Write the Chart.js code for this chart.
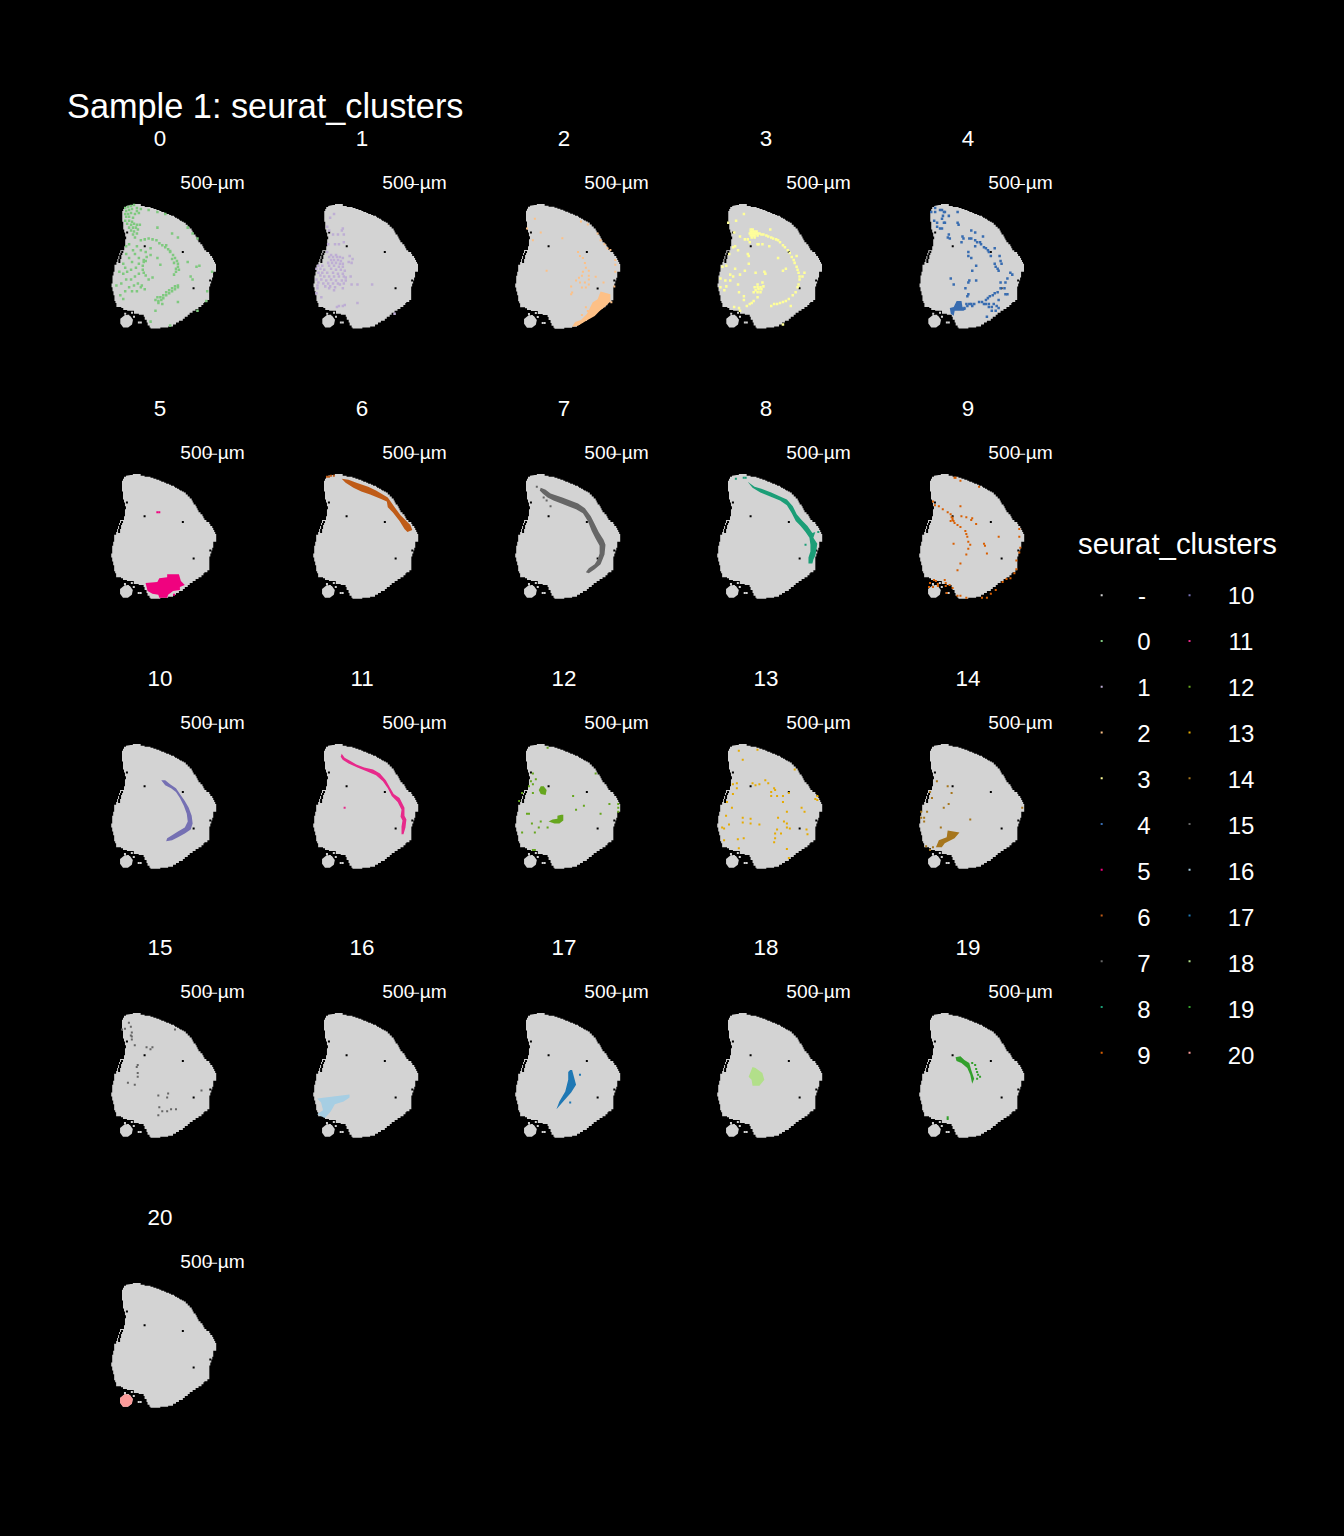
<!DOCTYPE html>
<html>
<head>
<meta charset="utf-8">
<title>Sample 1: seurat_clusters</title>
<script src="https://cdn.jsdelivr.net/npm/chart.js@4/dist/chart.umd.min.js"></script>
<style>
html, body { margin: 0; background: #000; }
#page { position: relative; width: 1344px; height: 1536px; background: #000; overflow: hidden; font-family: "Liberation Sans", Arial, sans-serif; color: #fff; }
#page canvas { position: absolute; }
.txt { position: absolute; white-space: nowrap; line-height: 1; transform: translate(-50%, -50%); }
</style>
</head>
<body>
<div id="page"></div>
<script>
// cluster names and colours, "-" is the legend entry for unassigned spots
var clusterNames = ["0","1","2","3","4","5","6","7","8","9","10","11","12","13","14","15","16","17","18","19","20"];
var clusterColors = ["#7FC97F","#BEAED4","#FDC086","#FFFF99","#386CB0","#F0027F","#BF5B17","#666666","#1B9E77","#D95F02","#7570B3","#E7298A","#66A61E","#E6AB02","#A6761D","#666666","#A6CEE3","#1F78B4","#B2DF8A","#33A02C","#FB9A99"];
var legendLeft = ["-","0","1","2","3","4","5","6","7","8","9"];
var legendRight = ["10","11","12","13","14","15","16","17","18","19","20"];
var legendLeftColors = ["#D3D3D3","#7FC97F","#BEAED4","#FDC086","#FFFF99","#386CB0","#F0027F","#BF5B17","#666666","#1B9E77","#D95F02"];
var legendRightColors = ["#7570B3","#E7298A","#66A61E","#E6AB02","#A6761D","#666666","#A6CEE3","#1F78B4","#B2DF8A","#33A02C","#FB9A99"];

// tissue section, x/y in pixels inside a panel
var tissueOutline = [[30,8],[32,7],[34,7],[40,9],[44,10],[50,11],[53,12],[56,13],[59,14],[61,15],[64,16],[66,17],[69,18],[71,19],[74,20],[75,21],[77,22],[79,23],[80,24],[82,25],[84,26],[86,28],[88,30],[90,32],[92,34],[93,36],[94,38],[96,40],[97,42],[98,44],[99,46],[101,48],[103,50],[104,52],[105,54],[107,56],[110,58],[111,60],[113,62],[114,64],[115,66],[116,68],[117,72],[117,76],[114,78],[114,82],[113,85],[112,88],[111,91],[110,95],[110,100],[110,105],[108,107],[105,108],[104,110],[102,112],[99,114],[96,116],[93,118],[90,120],[88,122],[85,124],[83,126],[79,128],[76,130],[73,132],[68,133],[60,134],[50,133],[49,131],[47,128],[46,125],[44,122],[43,120],[38,119],[33,119],[33,116],[30,116],[26,115],[22,113],[20,112],[15,108],[14,106],[13,103],[13,100],[12,96],[11,92],[10,88],[11,84],[11,80],[12,76],[13,72],[13,69],[15,66],[16,63],[17,60],[18,57],[19,54],[23,52],[23,50],[24,46],[24,43],[25,40],[24,36],[23,33],[22,29],[22,25],[21,21],[21,17],[21,14],[22,12],[23,10],[25,9]];
var tissueBlob = [[24,120],[29,121],[32,125],[31,130],[27,133],[22,133],[19,129],[19,124]];
var tissueBits = [[38,128],[40,128],[24,119],[27,121],[33,122],[31,118]];
var tissueHoles = [[44,50],[83,56],[94,93],[26,36],[111,85],[21,56],[20,58],[19,60],[19,62],[18,64],[18,66]];
var scaleBar = [[107,-13],[118,-13]];

var spots0 = [[24,11],[27,10],[30,9],[33,8],[36,11],[25,14],[28,13],[31,12],[36,14],[40,12],[24,17],[27,17],[30,16],[34,17],[38,16],[25,20],[28,20],[32,21],[24,24],[28,24],[31,25],[26,27],[30,28],[33,27],[36,28],[39,28],[28,31],[32,31],[35,31],[30,34],[33,35],[37,33],[32,38],[36,37],[34,41],[48,13],[57,15],[65,17],[88,31],[93,37],[98,42],[40,44],[44,43],[48,42],[52,43],[56,44],[59,47],[62,49],[65,51],[68,53],[70,56],[73,59],[75,62],[77,65],[78,68],[78,71],[76,73],[79,74],[76,76],[74,79],[70,55],[66,49],[72,63],[74,67],[55,105],[58,106],[61,105],[57,102],[60,102],[63,103],[63,100],[66,100],[66,97],[69,98],[69,95],[72,96],[72,93],[75,94],[75,91],[78,92],[78,90],[58,108],[62,109],[43,64],[45,65],[43,66],[50,59],[57,62],[60,69],[43,77],[40,92],[22,68],[24,72],[28,62],[31,66],[34,58],[38,62],[22,78],[26,76],[30,74],[35,72],[38,68],[42,70],[46,61],[20,88],[25,84],[30,84],[34,81],[38,78],[42,74],[45,80],[48,84],[52,82],[28,92],[33,90],[37,88],[41,90],[44,94],[31,96],[36,96],[24,96],[19,100],[22,104],[15,90],[18,76],[25,50],[28,48],[32,54],[36,50],[40,54],[45,56],[50,52],[25,58],[97,71],[100,70],[93,84],[91,81],[113,76],[108,96],[107,106],[98,116],[78,107],[70,131],[50,127],[55,116],[88,66],[57,31],[78,41],[72,37]];
var spots1 = [[31,17],[27,21],[24,30],[26,34],[40,32],[39,34],[30,38],[35,38],[41,38],[25,48],[32,48],[36,48],[41,46],[24,56],[47,60],[50,63],[46,66],[49,67],[41,81],[48,81],[49,89],[55,89],[70,89],[55,108],[42,110],[36,111],[34,112],[40,111],[93,119],[18,102],[13,98],[28,59],[33,59],[26,61],[30,61],[34,61],[37,61],[40,62],[28,64],[31,64],[35,64],[38,65],[25,67],[29,67],[33,67],[37,68],[40,68],[15,70],[19,70],[26,70],[31,70],[36,71],[40,71],[13,73],[17,73],[21,74],[28,73],[33,74],[38,74],[42,75],[15,77],[19,77],[24,77],[30,77],[35,78],[40,78],[17,80],[21,81],[26,81],[31,81],[36,81],[43,82],[13,84],[18,84],[23,85],[28,84],[33,85],[39,85],[43,85],[15,87],[20,88],[25,88],[30,88],[35,88],[41,88],[14,90],[22,91],[27,91],[32,92],[37,89],[26,93],[31,95],[40,93],[14,93]];
var spots2 = [[30,22],[22,32],[36,36],[28,44],[58,42],[42,75],[77,25],[84,28],[94,37],[97,44],[101,48],[104,52],[107,54],[112,64],[112,69],[112,76],[111,91],[108,107],[74,56],[76,60],[79,62],[81,67],[82,72],[85,75],[85,80],[85,84],[85,89],[82,92],[79,76],[78,80],[75,82],[76,87],[72,85],[78,92],[81,87],[92,81],[100,87],[67,91],[68,97],[67,99],[82,112],[84,116],[78,120]];
var patch2 = [[97,96],[107,99],[107,106],[102,111],[96,116],[91,121],[82,126],[74,131],[68,132],[71,127],[77,125],[83,119],[87,111],[89,107],[94,104]];
var spots3 = [[44,33],[46,33],[44,35],[46,35],[48,35],[50,35],[43,37],[45,37],[47,37],[49,37],[51,37],[53,37],[44,39],[46,39],[48,39],[51,39],[45,41],[48,41],[38,43],[41,43],[55,38],[57,38],[60,39],[62,40],[65,41],[67,42],[70,43],[72,44],[74,46],[77,49],[79,51],[82,54],[84,57],[86,61],[88,64],[89,67],[91,71],[92,74],[93,77],[94,81],[94,84],[93,89],[92,92],[90,97],[87,100],[83,104],[80,106],[77,107],[74,108],[71,109],[68,109],[37,17],[29,24],[21,26],[27,36],[33,40],[64,33],[43,46],[51,48],[52,48],[56,48],[63,50],[26,51],[28,50],[31,54],[22,58],[41,58],[42,60],[72,62],[42,68],[15,71],[19,70],[28,73],[38,75],[49,77],[58,76],[59,78],[77,75],[80,73],[91,60],[97,81],[99,77],[23,79],[26,81],[33,79],[13,83],[18,85],[23,85],[31,89],[13,92],[19,91],[17,95],[32,97],[56,87],[51,89],[48,92],[51,92],[54,92],[57,91],[49,95],[52,94],[55,94],[51,97],[54,97],[47,97],[37,101],[37,105],[51,102],[47,106],[45,108],[43,109],[40,111],[27,112],[32,113],[33,116],[65,111],[85,111],[77,130]];
var spots4 = [[26,11],[22,15],[26,15],[31,13],[33,13],[35,15],[36,15],[49,15],[40,19],[34,19],[33,22],[25,24],[28,26],[35,26],[36,26],[49,26],[50,28],[28,30],[31,32],[33,32],[63,34],[67,36],[40,38],[39,41],[41,42],[54,40],[55,42],[61,42],[63,42],[75,40],[67,44],[69,46],[72,46],[73,48],[67,50],[53,46],[76,51],[78,52],[80,54],[81,56],[87,52],[83,60],[60,56],[60,60],[63,62],[92,60],[93,65],[94,68],[87,68],[88,71],[90,73],[91,75],[68,70],[64,75],[103,77],[105,79],[100,83],[98,87],[93,87],[42,83],[45,89],[61,85],[60,87],[68,85],[57,93],[93,93],[97,93],[98,99],[100,99],[60,99],[59,101],[90,97],[87,98],[85,100],[82,101],[80,103],[78,105],[91,105],[71,107],[74,107],[76,109],[78,109],[81,109],[86,109],[81,112],[84,112],[89,111],[91,113],[84,116],[88,116],[79,122],[58,109],[61,109],[63,109],[66,109],[59,111],[64,111],[56,113]];
var patch4 = [[48,106],[53,106],[54,112],[58,114],[55,116],[46,116],[45,121],[42,119],[41,113],[45,112]];
var spots5 = [[57,46],[59,46],[74,130]];
var patch5 = [[67,109],[79,109],[81,116],[85,120],[80,122],[80,125],[73,126],[68,130],[67,133],[59,133],[58,130],[52,129],[47,126],[45,118],[57,117],[59,113],[67,112]];
var spots6 = [[24,10],[26,10],[28,9],[31,9]];
var patch6 = [[39,12],[46,13],[54,16],[66,20],[74,24],[86,31],[93,41],[99,49],[109,59],[111,64],[106,66],[103,63],[98,55],[91,46],[86,41],[85,35],[78,32],[68,28],[59,25],[51,21],[43,16]];
var spots7 = [[32,20],[39,31],[42,34],[46,40]];
var patch7 = [[36,21],[41,23],[46,27],[58,31],[66,34],[74,37],[81,42],[87,50],[91,58],[95,66],[100,74],[102,79],[101,89],[97,99],[91,104],[85,108],[82,107],[85,103],[91,99],[94,94],[96,88],[96,80],[92,73],[88,65],[84,55],[79,47],[72,43],[64,40],[57,37],[49,34],[43,31],[38,27],[35,24]];
var spots8 = [[29,12],[37,11],[39,11],[100,79],[113,66]];
var patch8 = [[41,15],[48,20],[55,22],[65,26],[74,30],[81,33],[87,40],[91,48],[96,54],[102,60],[107,67],[110,66],[108,72],[112,78],[111,85],[110,90],[108,94],[107,98],[103,98],[103,92],[105,86],[105,79],[104,72],[100,66],[95,60],[90,55],[86,47],[81,39],[74,34],[64,30],[54,26],[46,21]];
var spots9 = [[46,11],[47,11],[52,14],[71,20],[24,35],[26,39],[30,40],[34,43],[39,46],[42,48],[43,51],[44,54],[46,57],[49,59],[52,61],[57,65],[58,68],[59,71],[60,76],[62,79],[60,83],[58,89],[52,98],[49,105],[52,40],[53,50],[58,51],[64,52],[63,54],[68,58],[45,78],[91,71],[76,78],[77,80],[79,88],[112,63],[112,71],[113,82],[112,87],[109,95],[109,104],[107,108],[103,113],[99,114],[95,117],[88,125],[83,129],[79,133],[74,133],[58,133],[52,131],[49,131],[44,123],[41,120],[38,128],[25,115],[27,116],[29,119],[21,118],[24,122],[20,122],[29,121],[36,115],[37,118],[37,121],[44,52],[42,55],[45,55]];
var patch10 = [[61,44],[65,44],[70,48],[76,52],[80,58],[85,65],[89,72],[92,80],[93,88],[91,94],[85,98],[78,102],[72,105],[66,106],[67,103],[72,100],[78,96],[85,92],[88,86],[87,78],[84,70],[80,62],[76,56],[71,52],[65,49]];
var spots11 = [[42,72]];
var patch11 = [[39,17],[42,21],[47,24],[54,28],[62,31],[71,33],[78,37],[84,44],[88,51],[92,58],[98,62],[103,72],[103,80],[105,84],[104,92],[102,99],[100,99],[100,91],[101,85],[99,81],[100,74],[96,66],[90,60],[86,52],[81,45],[74,39],[65,35],[55,31],[46,27],[40,23],[38,20]];
var spots12 = [[43,11],[28,37],[31,43],[26,45],[28,48],[24,50],[28,57],[17,57],[14,65],[69,60],[92,37],[80,70],[72,74],[106,68],[115,68],[115,72],[115,76],[97,78],[22,78],[24,78],[27,88],[36,86],[34,92],[43,92],[17,97],[30,97],[30,115],[28,115]];
var patch12a = [[36,50],[39,50],[42,54],[41,59],[36,58],[34,54]];
var patch12b = [[57,79],[59,79],[59,85],[55,88],[50,88],[44,86],[48,84],[53,83],[53,80]];
var spots13 = [[32,14],[51,13],[36,23],[89,33],[26,48],[30,47],[30,52],[46,47],[49,49],[53,48],[59,44],[62,47],[68,52],[69,54],[65,56],[26,58],[65,60],[71,60],[77,60],[83,57],[112,60],[110,63],[112,64],[20,66],[77,66],[25,72],[96,72],[81,76],[99,76],[19,80],[36,82],[72,82],[44,83],[78,86],[81,88],[44,88],[36,87],[53,89],[22,89],[15,92],[17,93],[81,92],[84,93],[101,94],[71,94],[69,98],[75,98],[102,99],[69,103],[37,103],[31,104],[17,105],[68,107],[32,113],[81,114],[83,123]];
var spots14 = [[28,45],[39,50],[21,56],[43,57],[23,62],[40,68],[35,72],[115,72],[18,76],[12,76],[12,82],[15,82],[62,84],[15,86],[32,92],[17,111],[24,112],[21,115]];
var patch14 = [[39,95],[51,97],[46,103],[36,108],[33,112],[27,112],[30,105],[38,102]];
var spots15 = [[28,17],[30,21],[24,23],[21,24],[31,27],[30,30],[31,31],[31,34],[34,40],[75,24],[46,42],[52,42],[50,44],[37,60],[36,62],[37,68],[37,72],[27,78],[34,80],[68,89],[58,91],[67,93],[102,86],[59,103],[71,105],[76,105],[67,107],[62,107],[58,111]];
var patch16 = [[14,94],[47,90],[47,93],[41,97],[32,100],[28,107],[22,114],[14,110],[20,106],[18,98]];
var spots17 = [[76,70],[66,98]];
var patch17 = [[66,65],[68,65],[72,80],[67,88],[58,98],[52,105],[55,97],[61,87],[64,75],[64,67]];
var patch18 = [[46,62],[49,63],[56,68],[58,75],[53,81],[46,81],[45,75],[42,72],[44,67]];
var spots19 = [[64,58],[67,60],[68,64],[69,67],[70,70],[72,72],[69,74],[39,113],[39,115]];
var patch19 = [[47,52],[52,51],[56,55],[61,58],[63,65],[66,74],[64,79],[62,70],[59,63],[53,58],[48,56]];
var patch20 = [[24,120],[29,121],[32,125],[31,130],[27,133],[22,133],[19,129],[19,124]];

var clusterSpots = [spots0,spots1,spots2,spots3,spots4,spots5,spots6,spots7,spots8,spots9,[],spots11,spots12,spots13,spots14,spots15,[],spots17,[],spots19,[]];
var clusterPatches = [[],[],[patch2],[],[patch4],[patch5],[patch6],[patch7],[patch8],[],[patch10],[patch11],[patch12a,patch12b],[],[patch14],[],[patch16],[patch17],[patch18],[patch19],[patch20]];
var denseClusters = [0,1,3,4];

var page = document.getElementById('page');
var PANEL_W = 150, PANEL_H = 170, PANEL_TOP = 24;

function toXY(list) {
    return list.map(function (p) { return { x: p[0], y: p[1] }; });
}

function addText(str, x, y, size) {
    var el = document.createElement('div');
    el.className = 'txt';
    el.textContent = str;
    el.style.left = x + 'px';
    el.style.top = y + 'px';
    el.style.fontSize = size + 'px';
    page.appendChild(el);
    return el;
}

function addCanvas(x, y, w, h) {
    var c = document.createElement('canvas');
    c.width = w;
    c.height = h;
    c.style.left = x + 'px';
    c.style.top = y + 'px';
    c.style.width = w + 'px';
    c.style.height = h + 'px';
    page.appendChild(c);
    return c;
}

function shape(list, color, order, stepped) {
    return { data: toXY(list), showLine: true, stepped: !!stepped, fill: 'shape', backgroundColor: color, borderWidth: 0, pointRadius: 0, order: order };
}

// rect point style: side = radius * sqrt(2)
function squares(list, color, order, radius) {
    return { data: toXY(list), showLine: false, pointStyle: 'rect', pointRadius: radius, pointHoverRadius: radius, pointBorderWidth: 0, pointBackgroundColor: color, order: order };
}

function baseOptions(w, h, top) {
    return {
        responsive: false,
        animation: false,
        devicePixelRatio: 1,
        events: [],
        layout: { padding: 0 },
        plugins: { legend: { display: false }, tooltip: { enabled: false } },
        scales: {
            x: { type: 'linear', display: false, min: 0, max: w },
            y: { type: 'linear', display: false, min: -top, max: h - top, reverse: true }
        }
    };
}

// one small chart per cluster
clusterNames.forEach(function (name, i) {
    var col = i % 5, row = Math.floor(i / 5);
    var ox = 100 + 202 * col;
    var oy = Math.round(196 + 269.75 * row);

    addText(name, ox + 60, oy - 57.5, 22.4);
    addText('500 µm', ox + 112.5, oy - 13.5, 19.2);

    var spotRadius = denseClusters.indexOf(i) >= 0 ? 1.77 : 1.42;
    var datasets = [
        { data: toXY(scaleBar), showLine: true, borderColor: '#fff', borderWidth: 1, pointRadius: 0, order: 0 },
        squares(clusterSpots[i], clusterColors[i], 1, spotRadius)
    ];
    clusterPatches[i].forEach(function (p) {
        datasets.push(shape(p, clusterColors[i], 2));
    });
    datasets.push(squares(tissueHoles, '#000', 3, 1.42));
    datasets.push(squares(tissueBits, '#D3D3D3', 4, 1.42));
    datasets.push(shape(tissueBlob, '#D3D3D3', 4));
    datasets.push(shape(tissueOutline, '#D3D3D3', 5, true));

    new Chart(addCanvas(ox, oy - PANEL_TOP, PANEL_W, PANEL_H), {
        type: 'scatter',
        data: { datasets: datasets },
        options: baseOptions(PANEL_W, PANEL_H, PANEL_TOP)
    });
});

// main title and legend
var titleEl = addText('Sample 1: seurat_clusters', 67, 106, 34.3);
titleEl.style.transform = 'translate(0, -50%)';
addText('seurat_clusters', 1177.5, 544, 29.33);

var legendDatasets = [];
[[legendLeft, legendLeftColors, 11, 1144], [legendRight, legendRightColors, 100, 1241]].forEach(function (col) {
    col[0].forEach(function (label, r) {
        addText(label, label === '-' ? col[3] - 2 : col[3], 596 + 46 * r, 24);
        legendDatasets.push(squares([[col[2] + (col[2] === 11 ? -0.5 : 0.5), 14 + 46 * r]], col[1][r], 1, 1.42));
    });
});
new Chart(addCanvas(1090, 580, 120, 490), {
    type: 'scatter',
    data: { datasets: legendDatasets },
    options: baseOptions(120, 490, 0)
});
</script>
</body>
</html>
